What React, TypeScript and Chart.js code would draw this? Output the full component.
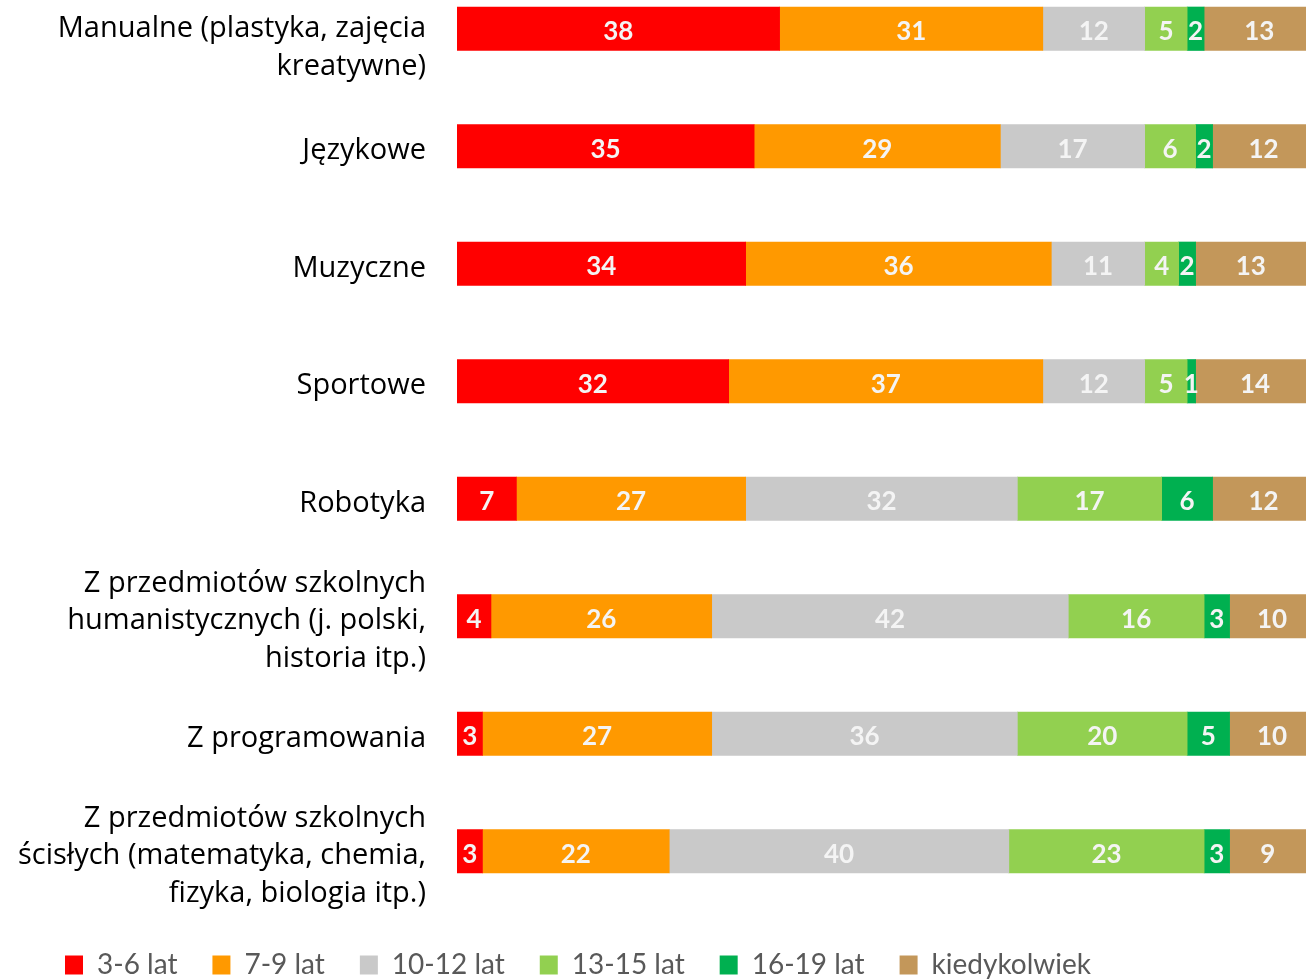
import React, { useEffect, useRef } from 'react';
import { Chart, registerables } from 'chart.js';

Chart.register(...registerables);

// ---- data ----
const categories: string[][] = [
  ['Manualne (plastyka, zajęcia', 'kreatywne)'],
  ['Językowe'],
  ['Muzyczne'],
  ['Sportowe'],
  ['Robotyka'],
  ['Z przedmiotów szkolnych', 'humanistycznych (j. polski,', 'historia itp.)'],
  ['Z programowania'],
  ['Z przedmiotów szkolnych', 'ścisłych (matematyka, chemia,', 'fizyka, biologia itp.)'],
];

const seriesNames = ['3-6 lat', '7-9 lat', '10-12 lat', '13-15 lat', '16-19 lat', 'kiedykolwiek'];

const age3to6 = [38, 35, 34, 32, 7, 4, 3, 3];
const age7to9 = [31, 29, 36, 37, 27, 26, 27, 22];
const age10to12 = [12, 17, 11, 12, 32, 42, 36, 40];
const age13to15 = [5, 6, 4, 5, 17, 16, 20, 23];
const age16to19 = [2, 2, 2, 1, 6, 3, 5, 3];
const anytime = [13, 12, 13, 14, 12, 10, 10, 9];

const seriesColors = ['#FF0000', '#FF9900', '#C9C9C9', '#92D050', '#00B050', '#C3975A'];

// ---- layout ----
const CANVAS_W = 1306;
const CANVAS_H = 1019;
const CANVAS_TOP = -30;
const FONT = 'Lato, "Open Sans", sans-serif';
const CAT_FONT = '"Open Sans", Lato, sans-serif';
const LABEL_RIGHT = 426;
const LABEL_LINE_H = 37.5;
const LABEL_BASELINE_DY = 13;
const LABEL_MIN_BASELINE = 67;

export default function App() {
  const ref = useRef<HTMLCanvasElement>(null);

  useEffect(() => {
    const canvas = ref.current;
    if (!canvas) return;
    const seriesValues = [age3to6, age7to9, age10to12, age13to15, age16to19, anytime];

    const categoryLabelsPlugin = {
      id: 'categoryLabels',
      afterDraw(chart: any) {
        const { ctx } = chart;
        const y = chart.scales.y;
        ctx.save();
        ctx.font = `29px ${CAT_FONT}`;
        ctx.fillStyle = '#000000';
        ctx.textAlign = 'right';
        ctx.textBaseline = 'alphabetic';
        categories.forEach((lines, i) => {
          const c = y.getPixelForValue(i);
          let b = c + LABEL_BASELINE_DY - ((lines.length - 1) * LABEL_LINE_H) / 2;
          b = Math.max(b, LABEL_MIN_BASELINE);
          lines.forEach((ln, k) => ctx.fillText(ln, LABEL_RIGHT, b + k * LABEL_LINE_H));
        });
        ctx.restore();
      },
    };

    const valueLabelsPlugin = {
      id: 'valueLabels',
      afterDatasetsDraw(chart: any) {
        const { ctx } = chart;
        ctx.save();
        ctx.font = `bold 26px ${FONT}`;
        ctx.fillStyle = '#F4F4F4';
        ctx.textAlign = 'center';
        ctx.textBaseline = 'middle';
        chart.data.datasets.forEach((ds: any, di: number) => {
          const meta = chart.getDatasetMeta(di);
          meta.data.forEach((el: any, i: number) => {
            const p = el.getCenterPoint();
            ctx.fillText(String(ds.data[i]), p.x, p.y + 3);
          });
        });
        ctx.restore();
      },
    };

    const chart = new Chart(canvas, {
      type: 'bar',
      data: {
        labels: categories.map((l) => l.join(' ')),
        datasets: seriesNames.map((name, i) => ({
          label: name,
          data: seriesValues[i],
          backgroundColor: seriesColors[i],
          borderWidth: 0,
          barThickness: 43.5,
          clip: 0,
        })),
      },
      options: {
        indexAxis: 'y',
        responsive: false,
        animation: false,
        devicePixelRatio: 1,
        layout: { padding: { left: 30, right: 0, top: 0, bottom: 0 } },
        scales: {
          x: { type: 'linear', stacked: true, min: 0, max: 100, display: false },
          y: {
            type: 'category',
            stacked: true,
            ticks: { display: false },
            grid: { display: false },
            border: { display: false },
            afterFit: (s: any) => {
              s.width = 427;
            },
          },
        },
        plugins: {
          legend: {
            position: 'bottom',
            align: 'start',
            title: { display: true, text: '', padding: { top: 5, bottom: 0 }, font: { size: 1, lineHeight: 1 } },
            labels: {
              boxWidth: 18,
              boxHeight: 19,
              padding: 35,
              color: '#595959',
              font: { family: FONT, size: 28 },
            },
          },
          tooltip: { enabled: false },
        },
      } as any,
      plugins: [valueLabelsPlugin, categoryLabelsPlugin],
    });

    return () => chart.destroy();
  }, []);

  return (
    <div
      style={{
        position: 'fixed',
        left: 0,
        top: 0,
        width: CANVAS_W,
        height: 980,
        overflow: 'hidden',
        background: '#ffffff',
      }}
    >
      <canvas
        ref={ref}
        width={CANVAS_W}
        height={CANVAS_H}
        style={{ position: 'absolute', left: 0, top: CANVAS_TOP, display: 'block' }}
      />
    </div>
  );
}
